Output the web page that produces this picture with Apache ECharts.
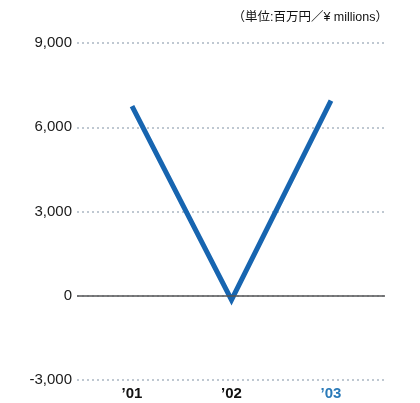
<!DOCTYPE html>
<html><head><meta charset="utf-8">
<script src="https://cdn.jsdelivr.net/npm/echarts@6/dist/echarts.min.js"></script>
<style>html,body{margin:0;padding:0;background:#fff}#c{width:420px;height:403px}</style>
</head><body><div id="c"></div>
<script>
var categories = ['\u201901', '\u201902', '\u201903'];
var values = [6750, -150, 6950];
var yTicks = [-3000, 0, 3000, 6000, 9000];
var unitText = '\uFF08単位:百万円\uFF0F\u00A5 millions\uFF09';

var chart = echarts.init(document.getElementById('c'), null, {renderer: 'canvas'});
var font = '"Liberation Sans", Arial, "Noto Sans CJK JP", sans-serif';
chart.setOption({
  animation: false,
  backgroundColor: '#fff',
  title: {
    text: unitText, right: 27, top: 6,
    textStyle: {fontSize: 12.5, fontWeight: 'normal', color: '#111', fontFamily: font}
  },
  grid: {left: 77, right: 35, top: 43, bottom: 23},
  xAxis: {
    type: 'value', min: -0.553, max: 2.543,
    axisLine: {show: false}, axisTick: {show: false}, splitLine: {show: false},
    axisLabel: {
      customValues: [0, 1, 2],
      margin: 6,
      fontSize: 15, fontWeight: 'bold', fontFamily: font,
      formatter: function (v) {
        var i = Math.round(v);
        return i === 2 ? '{b|' + categories[i] + '}' : categories[i];
      },
      color: '#111',
      rich: {b: {color: '#2a7ab8', fontSize: 15, fontWeight: 'bold', fontFamily: font}}
    }
  },
  yAxis: {
    type: 'value', min: yTicks[0], max: yTicks[yTicks.length - 1], interval: 3000,
    axisLine: {show: false}, axisTick: {show: false},
    axisLabel: {
      fontSize: 15, color: '#1a1a1a', margin: 5, fontFamily: font,
      formatter: function (v) { return v === 0 ? '0' : v.toLocaleString('en-US'); }
    },
    splitLine: {lineStyle: {type: [2, 3], color: '#aab6c2', width: 1.5}}
  },
  series: [{
    type: 'line',
    data: values.map(function (v, i) { return [i, v]; }),
    symbol: 'none',
    lineStyle: {color: '#1765b0', width: 5, join: 'miter'},
    markLine: {
      silent: true, symbol: 'none', label: {show: false},
      lineStyle: {color: '#555', type: 'solid', width: 1.5},
      data: [{yAxis: 0}]
    },
    z: 3
  }]
});
</script></body></html>
